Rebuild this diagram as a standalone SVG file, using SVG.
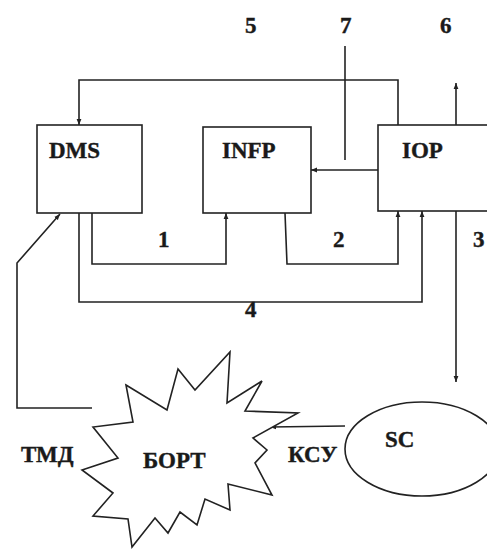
<svg xmlns="http://www.w3.org/2000/svg" width="487" height="549" viewBox="0 0 487 549">
<defs>
<style>
.box{fill:#fff;stroke:#222;stroke-width:1.6}
.ln{fill:none;stroke:#222;stroke-width:1.6}
.t{font-family:'Liberation Serif','Times New Roman','DejaVu Serif',serif;font-weight:700;font-size:23px;fill:#1a1a1a;stroke:#1a1a1a;stroke-width:0.4}
</style>
<marker id="ah" viewBox="0 0 10 10" refX="10" refY="5" markerWidth="6" markerHeight="6" orient="auto" markerUnits="userSpaceOnUse">
<path d="M0,1 L10,5 L0,9 Z" fill="#222"/>
</marker>
</defs>
<rect width="487" height="549" fill="#fff"/>
<g id="connectors">
<polyline class="ln" points="398,125 398,80 79,80 79,125" marker-end="url(#ah)"/>
<line class="ln" x1="345" y1="46" x2="345" y2="160"/>
<line class="ln" x1="378" y1="170" x2="311" y2="170" marker-end="url(#ah)"/>
<line class="ln" x1="456" y1="125" x2="456" y2="83" marker-end="url(#ah)"/>
<polyline class="ln" points="92,213 92,264 226,264 226,213" marker-end="url(#ah)"/>
<polyline class="ln" points="285,213 287,264 398,264 398,211" marker-end="url(#ah)"/>
<polyline class="ln" points="79,213 79,302 422,302 422,211" marker-end="url(#ah)"/>
<line class="ln" x1="456" y1="211" x2="456" y2="382" marker-end="url(#ah)"/>
<polyline class="ln" points="92,408 17,408 17,263 60,214" marker-end="url(#ah)"/>
<line class="ln" x1="345" y1="426" x2="270" y2="427" marker-end="url(#ah)"/>
<text class="t" x="245" y="33">5</text>
<text class="t" x="340" y="33">7</text>
<text class="t" x="440" y="33">6</text>
<text class="t" x="158" y="247">1</text>
<text class="t" x="333" y="247">2</text>
<text class="t" x="473" y="247">3</text>
<text class="t" x="245" y="317">4</text>
<text class="t" x="21" y="462">ТМД</text>
<text class="t" x="288" y="462">КСУ</text>
</g>
<g id="DMS">
<rect class="box" x="37" y="125" width="105" height="88"/>
<text class="t" x="49" y="158">DMS</text>
</g>
<g id="INFP">
<rect class="box" x="203" y="127" width="108" height="86"/>
<text class="t" x="222" y="158">INFP</text>
</g>
<g id="IOP">
<rect class="box" x="378" y="125" width="120" height="86"/>
<text class="t" x="402" y="158">IOP</text>
</g>
<g id="BORT">
<polygon class="box" points="126,385 167,410 178,369 195,390 230,352 227,403 262,381 245,411 298,413 253,438 267,450 255,463 272,495 228,484 230,510 205,499 197,525 180,512 168,533 155,518 132,547 128,519 93,516 113,493 82,470 118,458 93,427 133,422"/>
<text class="t" x="143" y="468">БОРТ</text>
</g>
<g id="SC">
<ellipse class="box" cx="422" cy="449" rx="77" ry="47"/>
<text class="t" x="385" y="447">SC</text>
</g>
</svg>
